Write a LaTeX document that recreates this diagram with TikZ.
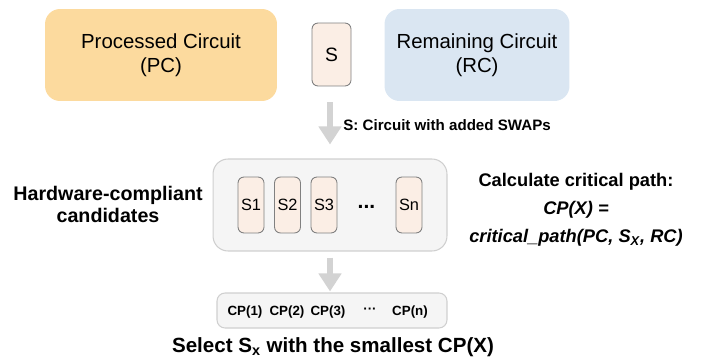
\documentclass[tikz,border=0pt]{standalone}
\usepackage{fontspec}
\setmainfont{Liberation Sans}
\usetikzlibrary{arrows.meta}

\definecolor{pcfill}{HTML}{FCDA9E}
\definecolor{rcfill}{HTML}{DAE6F2}
\definecolor{swapfill}{HTML}{FBEEE5}
\definecolor{groupfill}{HTML}{F5F5F5}
\definecolor{groupline}{HTML}{CFCFCF}
\definecolor{arrowgray}{HTML}{D3D3D3}

\tikzset{
  circuit/.style={rounded corners=0.3cm, minimum height=1.84cm, align=center,
    font=\fontsize{11.6}{13.6}\selectfont},
  swapbox/.style={draw=gray, fill=swapfill, rounded corners=0.12cm, line width=0.5pt},
  groupbox/.style={draw=groupline, fill=groupfill, line width=0.6pt},
  boldtext/.style={font=\bfseries\fontsize{11.2}{12.5}\selectfont, align=center},
  cplabel/.style={font=\bfseries\fontsize{7.6}{9}\selectfont, inner sep=0pt},
  bigarrow/.style={draw=arrowgray, line width=3.4pt,
    -{Triangle[width=0.44cm,length=0.36cm]}},
}

\begin{document}
\begin{tikzpicture}[x=0.02cm, y=-0.02cm]
    \useasboundingbox (0,0) rectangle (709,358);

    % 上方：已处理电路、S、剩余电路
    \node[circuit, fill=pcfill, minimum width=4.64cm] (pc) at (161,55) {Processed Circuit\\(PC)};
    \node[swapbox, minimum width=0.78cm, minimum height=1.26cm,
      font=\fontsize{11}{13}\selectfont] (s) at (331.5,54.5) {S};
    \node[circuit, fill=rcfill, minimum width=3.7cm] (rc) at (477,55) {Remaining Circuit\\(RC)};

    % 候选集合
    \node[groupbox, rounded corners=0.3cm, minimum width=4.68cm, minimum height=1.84cm] (cand) at (330,205) {};
    \foreach \i/\x in {1/251, 2/287.5, 3/324, n/409}
        \node[swapbox, minimum width=0.52cm, minimum height=1.12cm, inner sep=1pt,
          font=\fontsize{9.3}{11}\selectfont] (s\i) at (\x,205) {S\i};
    \node[font=\bfseries\fontsize{12}{14}\selectfont] (sdots) at (366.5,207) {...};
    \node[boldtext] (hw) at (108,204) {Hardware-compliant\\candidates};
    \node[boldtext, font=\bfseries\fontsize{10.4}{15.9}\selectfont] (calc) at (576,210)
        {Calculate critical path:\\\textit{CP(X) =}\\\textit{critical\_path(PC, S\textsubscript{X}, RC)}};

    % 箭头 1
    \draw[bigarrow, shorten <=0.32cm, shorten >=0.28cm] (cand.north |- s.south) -- (cand.north);
    \node[font=\bfseries\fontsize{8.6}{10}\selectfont, anchor=west, inner sep=0pt] (slabel) at (343,125)
        {S: Circuit with added SWAPs};

    % 箭头 2 和 CP 值
    \node[groupbox, rounded corners=0.16cm, minimum width=4.6cm, minimum height=0.7cm] (cpbox) at (332,310.5) {};
    \draw[bigarrow, shorten <=0.12cm, shorten >=0.02cm] (cand.south) -- (cand.south |- cpbox.north);
    \foreach \i/\x in {1/245, 2/287, 3/328, n/410}
        \node[cplabel] (cp\i) at (\x,312) {CP(\i)};
    \node[cplabel] (cpdots) at (370,311) {···};

    % 结论
    \node[font=\bfseries\fontsize{11.7}{14}\selectfont] (select) at (333,347)
        {Select S\textsubscript{x} with the smallest CP(X)};
\end{tikzpicture}
\end{document}
